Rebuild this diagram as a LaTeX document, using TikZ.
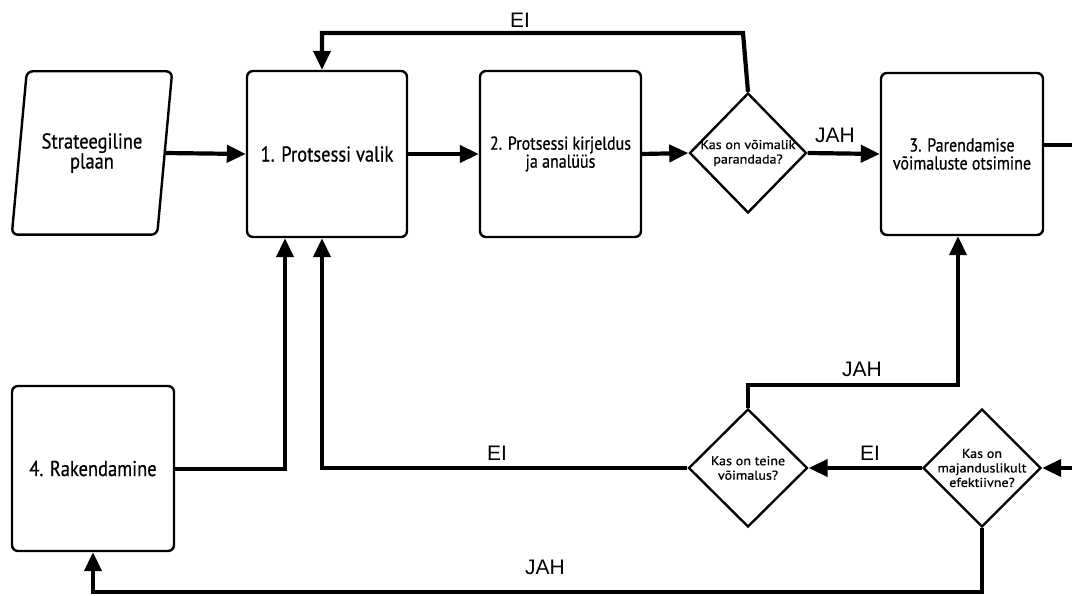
\documentclass[tikz,border=0pt]{standalone}
\usepackage{fontspec}
\setmainfont{PT Sans}[FakeBold=0.6]
\newfontfamily\boxfont{PT Sans}[FakeStretch=0.86, FakeBold=0.6]
\newfontfamily\qfont{PT Sans}[FakeStretch=1.1, FakeBold=0.7]
\newfontfamily\labelfont{Liberation Sans}
\usetikzlibrary{shapes.geometric,arrows.meta,calc}
\tikzset{
  procbox/.style={draw, rectangle, rounded corners=6pt, line width=2.4pt, align=center, font=\boxfont\fontsize{21.5}{20}\selectfont, inner sep=2pt},
  smalltext/.style={font=\boxfont\fontsize{18.6}{18}\selectfont},
  decision/.style={draw, diamond, line width=2.4pt, inner sep=0pt},
  qtext/.style={font=\qfont\fontsize{12.8}{14.5}\selectfont, align=center, inner sep=0pt},
  flow/.style={line width=4.2pt, -{Triangle[length=19pt,width=17pt]}},
  flowplain/.style={line width=4.2pt},
  lbl/.style={font=\labelfont\fontsize{21}{22}\selectfont, inner sep=0pt}
}
\begin{document}
\begin{tikzpicture}[x=1pt,y=-1pt]
\useasboundingbox[fill=white] (0,0) rectangle (1072,596);

% input: strategic plan (parallelogram drawn around an invisible node)
\node[minimum width=145pt, minimum height=163pt, inner sep=0pt, align=center,
      font=\boxfont\fontsize{21.5}{20}\selectfont] (plan) at (92,153) {Strateegiline\\plaan};
\draw[line width=2.4pt, rounded corners=6pt]
  ($(plan.north west)+(7.5pt,0)$) -- ($(plan.north east)+(7.5pt,0)$) --
  ($(plan.south east)+(-7.5pt,0)$) -- ($(plan.south west)+(-7.5pt,0)$) -- cycle;

% process steps
\node[procbox, minimum width=160pt, minimum height=166pt] (s1) at (327,154) {1. Protsessi valik};
\node[procbox, smalltext, minimum width=161pt, minimum height=166pt] (s2) at (560.5,154) {2. Protsessi kirjeldus\\ja anal\"u\"us};
\node[procbox, smalltext, minimum width=162pt, minimum height=162pt] (s3) at (962,154) {3. Parendamise\\v\~oimaluste otsimine};
\node[procbox, minimum width=162pt, minimum height=165pt] (s4) at (93,468.5) {4. Rakendamine};

% decisions (fixed size, question text laid over the centre)
\node[decision, minimum width=117pt, minimum height=120pt,
      label={[qtext]center:Kas on v\~oimalik\\parandada?}] (d1) at (748,153) {};
\node[decision, minimum width=119pt, minimum height=118pt,
      label={[qtext]center:Kas on teine\\v\~oimalus?}] (d2) at (748,468) {};
\node[decision, minimum width=118pt, minimum height=118pt,
      label={[qtext]center:Kas on\\majanduslikult\\efektiivne?}] (d3) at (982,468) {};

% turning points
\coordinate (topturn) at (743,33);
\coordinate (rightout) at (1076,145);
\coordinate (rightin) at (1076,468);
\coordinate (midturn) at (748,385);
\coordinate (bottomturn) at (982,592);

% main flow
\draw[flow] (plan.east) -- (s1.west);
\draw[flow] (s1.east) -- (s2.west);
\draw[flow] (s2.east) -- (d1.west);
\draw[flow] (d1.east) -- (s3.west);
\node[lbl] (jah1) at (835,135) {JAH};

% no improvement possible: back to step 1
\draw[flow] (d1.north) -- (topturn) -| ([xshift=-5pt]s1.north);
\node[lbl] (ei1) at (520,20) {EI};

% step 3 continues beyond the right edge and returns
\draw[flowplain] ([yshift=9pt]s3.east) -- (rightout);
\draw[flow] (rightin) -- (d3.east);

% economic check
\draw[flow] (d3.west) -- (d2.east);
\node[lbl] (ei2) at (870,453) {EI};
\draw[flow] (d3.south) -- (bottomturn) -| (s4.south);
\node[lbl] (jah3) at (545,567) {JAH};

% another option?
\draw[flow] (d2.north) -- (midturn) -| ([xshift=-4pt]s3.south);
\node[lbl] (jah2) at (862,369) {JAH};
\draw[flow] (d2.west) -| ([xshift=-5pt]s1.south);
\node[lbl] (ei3) at (497,453) {EI};

% implementation back to process selection
\draw[flow] ([yshift=-0.5pt]s4.east) -| ([xshift=-42pt]s1.south);
\end{tikzpicture}
\end{document}
